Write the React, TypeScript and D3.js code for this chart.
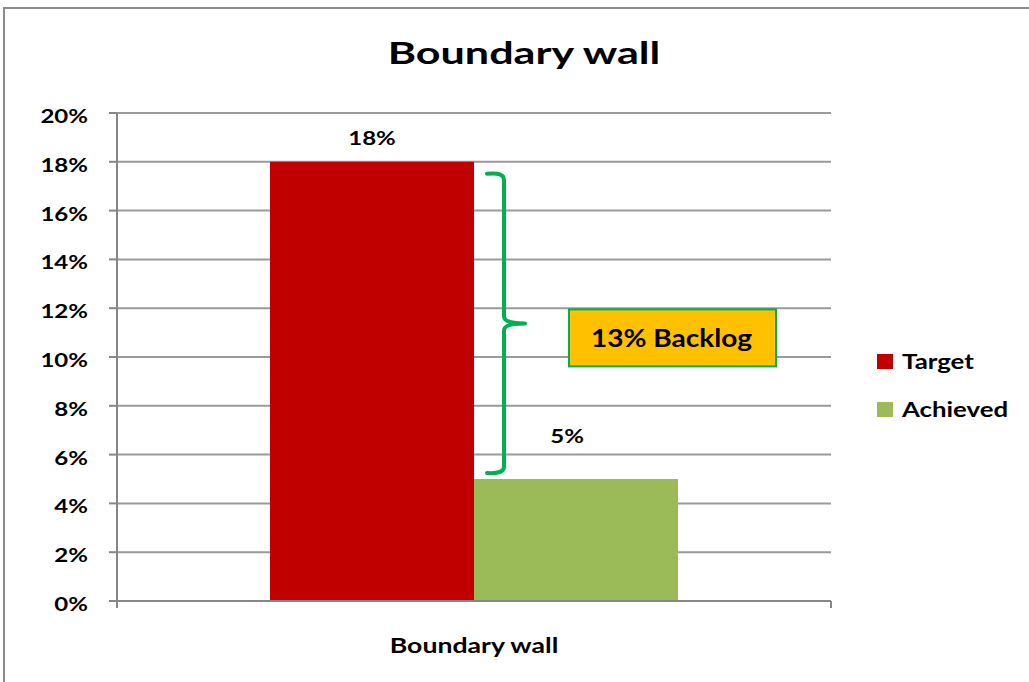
import React from "react";
import * as d3 from "d3";

// chart data
const categories = ["Boundary wall"];
const seriesNames = ["Target", "Achieved"];
const seriesValues = [18, 5];
const seriesColors = ["#C00000", "#9BBB59"];
const yTicks = [0, 2, 4, 6, 8, 10, 12, 14, 16, 18, 20];
const backlogLabel = "13% Backlog";

const W = 1029;
const H = 682;
const FONT = "Lato, Carlito, Calibri, sans-serif";

// the original text is a horizontally stretched Calibri bold
const SText = ({ x, y, sx = 1.28, size, anchor = "start", children }: any) => (
  <text
    transform={`translate(${x},${y}) scale(${sx},1)`}
    textAnchor={anchor}
    fontFamily={FONT}
    fontWeight="bold"
    fontSize={size}
    fill="#000"
  >
    {children}
  </text>
);

const App = () => {
  const x = d3.scaleBand().domain(categories).range([117, 831]).padding(0);
  const xs = d3
    .scaleBand()
    .domain(seriesNames)
    .range([0, x.bandwidth()])
    .paddingInner(0)
    .paddingOuter(0.75);
  const y = d3.scaleLinear().domain([0, 20]).range([601, 113]);

  const cat = categories[0];
  const x0 = x(cat) || 0;
  const redRight = x0 + (xs(seriesNames[0]) || 0) + xs.bandwidth();

  // bracket between target and achieved
  const bx = redRight + 30;
  const top = y(seriesValues[0]) + 12;
  const bot = y(seriesValues[1]) - 6;
  const mid = y((seriesValues[0] + seriesValues[1]) / 2) + 3;
  const bracket = d3.path();
  bracket.moveTo(bx - 17, top);
  bracket.quadraticCurveTo(bx, top - 2, bx, top + 6);
  bracket.lineTo(bx, mid - 7);
  bracket.quadraticCurveTo(bx, mid, bx + 21, mid);
  bracket.quadraticCurveTo(bx, mid, bx, mid + 7);
  bracket.lineTo(bx, bot - 6);
  bracket.quadraticCurveTo(bx, bot + 1, bx - 17, bot);

  const boxX = bx + 65;
  const boxY = mid - 14;
  const boxW = 207;
  const boxH = 57;

  return (
    <div style={{ position: "fixed", left: 0, top: 0 }}>
      <svg width={W} height={H} style={{ display: "block", background: "#fff" }}>
        <rect x={4} y={8} width={W + 10} height={H + 10} fill="#fff" stroke="#8c8c8c" strokeWidth={2} />
        <SText x={524} y={64} size={31} sx={1.39} anchor="middle">
          Boundary wall
        </SText>

        {/* gridlines */}
        {yTicks.filter(t => t > 0).map(t => (
          <line key={t} x1={117} x2={831} y1={y(t)} y2={y(t)} stroke="#9a9a9a" strokeWidth={2} />
        ))}

        {/* bars */}
        {seriesNames.map((s, i) => (
          <rect
            key={s}
            x={x0 + (xs(s) || 0)}
            y={y(seriesValues[i])}
            width={xs.bandwidth()}
            height={y(0) - y(seriesValues[i])}
            fill={seriesColors[i]}
          />
        ))}

        {/* axes */}
        <line x1={117} x2={117} y1={y(20)} y2={y(0) + 7} stroke="#868686" strokeWidth={2} />
        <line x1={109} x2={831} y1={y(0)} y2={y(0)} stroke="#868686" strokeWidth={2} />
        <line x1={831} x2={831} y1={y(0)} y2={y(0) + 7} stroke="#868686" strokeWidth={2} />
        {yTicks.map(t => (
          <g key={t}>
            <line x1={109} x2={117} y1={y(t)} y2={y(t)} stroke="#868686" strokeWidth={2} />
            <SText x={88} y={y(t) + 10} size={18.5} sx={1.3} anchor="end">
              {t}%
            </SText>
          </g>
        ))}

        {/* data labels */}
        {seriesNames.map((s, i) => (
          <SText
            key={s}
            x={x0 + (xs(s) || 0) + xs.bandwidth() / 2 - (i === 1 ? 9 : 0)}
            y={y(seriesValues[i]) - (i === 1 ? 36 : 17)}
            size={18.5}
            sx={1.3}
            anchor="middle"
          >
            {seriesValues[i]}%
          </SText>
        ))}

        <SText x={x0 + x.bandwidth() / 2} y={653} size={20.5} sx={1.3} anchor="middle">
          {cat}
        </SText>

        {/* backlog annotation */}
        <path d={bracket.toString()} fill="none" stroke="#00B050" strokeWidth={4} strokeLinecap="round" strokeLinejoin="round" />
        <rect x={boxX} y={boxY} width={boxW} height={boxH} fill="#FFC000" stroke="#00B050" strokeWidth={2} />
        <SText x={boxX + boxW / 2 - 1} y={boxY + boxH / 2 + 9} size={25.5} sx={1.1} anchor="middle">
          {backlogLabel}
        </SText>

        {/* legend */}
        {seriesNames.map((s, i) => (
          <g key={s} transform={`translate(877, ${354 + i * 48})`}>
            <rect width={16} height={15} fill={seriesColors[i]} />
            <SText x={25} y={15} size={20.5} sx={1.26}>
              {s}
            </SText>
          </g>
        ))}
      </svg>
    </div>
  );
};

export default App;
